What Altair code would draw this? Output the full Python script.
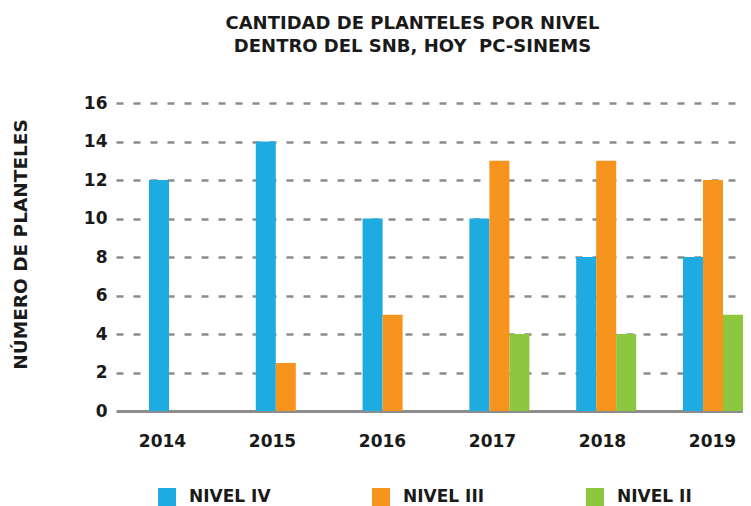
import altair as alt
import pandas as pd

# ---- data ----
years = ["2014", "2015", "2016", "2017", "2018", "2019"]
nivel_iv = [12, 14, 10, 10, 8, 8]
nivel_iii = [0, 2.5, 5, 13, 13, 12]
nivel_ii = [0, 0, 0, 4, 4, 5]
series = ["NIVEL IV", "NIVEL III", "NIVEL II"]
colors = ["#1DABE2", "#F7941E", "#8DC63F"]
title_lines = ["CANTIDAD DE PLANTELES POR NIVEL", "DENTRO DEL SNB, HOY \u00a0PC-SINEMS"]
y_title = "NÚMERO DE PLANTELES"
y_ticks = [0, 2, 4, 6, 8, 10, 12, 14, 16]

rows = []
for name, vals in zip(series, [nivel_iv, nivel_iii, nivel_ii]):
    for yr, v in zip(years, vals):
        rows.append({"year": yr, "nivel": name, "value": v})
df = pd.DataFrame(rows)
df_years = pd.DataFrame({"year": years})

FONT = "DejaVu Sans"
TXT = "#1a1a1a"
GRID = "#8c8c8c"
W, H = 627, 308

bars = (
    alt.Chart(df)
    .transform_filter("datum.value > 0")
    .mark_bar()
    .encode(
        x=alt.X(
            "year:N",
            sort=years,
            scale=alt.Scale(domain=years, paddingInner=0.438, paddingOuter=0.1545,
                            align=1, round=False),
            axis=None,
        ),
        xOffset=alt.XOffset(
            "nivel:N",
            sort=series,
            scale=alt.Scale(domain=series, paddingInner=0, paddingOuter=0, round=False),
        ),
        y=alt.Y(
            "value:Q",
            scale=alt.Scale(domain=[0, 16], nice=False, zero=True),
            axis=alt.Axis(
                values=y_ticks,
                title=y_title,
                titleFont=FONT,
                titleFontSize=18.5,
                titleFontWeight="bold",
                titleColor=TXT,
                titleAngle=270,
                titleAlign="center",
                titleBaseline="middle",
                titleX=-96,
                titleY=141,
                domain=False,
                ticks=False,
                labelFont=FONT,
                labelFontSize=17,
                labelFontWeight="bold",
                labelColor=TXT,
                labelPadding=9,
                grid=True,
                gridColor=GRID,
                gridWidth=alt.condition("datum.value === 0", alt.value(3), alt.value(2.5)),
                gridDash=alt.condition("datum.value === 0", alt.value([1, 0]), alt.value([7, 10])),
            ),
        ),
        color=alt.Color(
            "nivel:N",
            sort=series,
            scale=alt.Scale(domain=series, range=colors),
            legend=alt.Legend(
                title=None,
                orient="none",
                direction="horizontal",
                legendX=42,
                legendY=385,
                padding=0,
                columnPadding=101,
                symbolType="square",
                symbolSize=324,
                symbolStrokeWidth=0,
                symbolOpacity=1,
                labelOffset=13,
                labelFont=FONT,
                labelFontSize=17,
                labelFontWeight="bold",
                labelColor=TXT,
                labelLimit=300,
            ),
        ),
    )
)

labels = (
    alt.Chart(df_years)
    .mark_text(opacity=0)
    .encode(
        x=alt.X(
            "year:N",
            sort=years,
            scale=alt.Scale(domain=years, range=[-9, 651], paddingInner=0,
                            paddingOuter=0, round=False),
            axis=alt.Axis(
                title=None,
                domain=False,
                ticks=False,
                labelAngle=0,
                labelFont=FONT,
                labelFontSize=17,
                labelFontWeight="bold",
                labelColor=TXT,
                labelPadding=22,
            ),
        ),
        text=alt.value(""),
    )
)

chart = (
    alt.layer(bars, labels)
    .resolve_scale(x="independent")
    .properties(
        width=W,
        height=H,
        title=alt.TitleParams(
            text=title_lines,
            font=FONT,
            fontSize=18,
            fontWeight="bold",
            color=TXT,
            anchor="middle",
            dx=-17,
            lineHeight=23,
            baseline="bottom",
            offset=20,
        ),
        autosize=alt.AutoSizeParams(type="none"),
        padding={"left": 108, "top": 95, "right": 0, "bottom": 95},
        background="white",
    )
    .configure_view(stroke=None)
)

chart.save("out.html", embed_options={"renderer": "svg", "actions": False})
